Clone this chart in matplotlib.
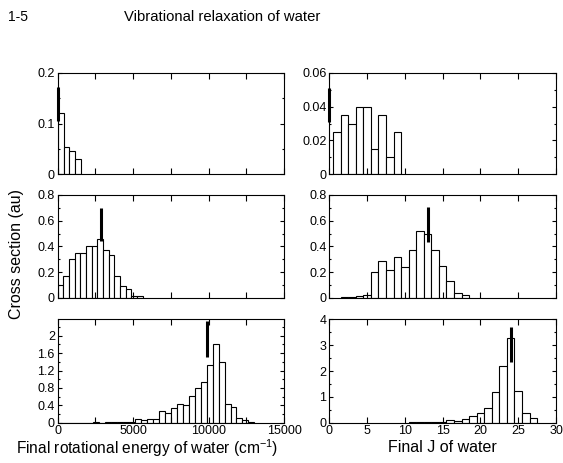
import matplotlib
matplotlib.use('Agg')
import matplotlib.pyplot as plt
from matplotlib.ticker import MultipleLocator, FuncFormatter
import numpy as np

plt.rcParams['font.family'] = ['Liberation Sans', 'DejaVu Sans']
plt.rcParams['axes.linewidth'] = 0.8

# ---- data ----
# left column: rotational energy histograms (bins start at 0, fixed width)
e_width = [390, 375, 395]
e_top = [0.12, 0.053, 0.046, 0.031]
e_mid = [0.10, 0.17, 0.30, 0.35, 0.35, 0.40, 0.405, 0.46, 0.37, 0.33,
         0.17, 0.09, 0.07, 0.01, 0.01]
e_bot = [0, 0, 0, 0, 0, 0, 0.01, 0, 0.01, 0.015, 0.015, 0.015, 0.02,
         0.085, 0.07, 0.09, 0.095, 0.28, 0.22, 0.33, 0.44, 0.41, 0.62,
         0.81, 0.93, 1.33, 1.81, 1.40, 0.42, 0.37, 0.10, 0.06, 0.02]

# right column: final J histograms
j_top = [1, 2, 3, 4, 5, 6, 7, 8, 9]
p_top = [0.025, 0.035, 0.03, 0.04, 0.04, 0.015, 0.035, 0.01, 0.025]
j_mid = [2, 3, 4, 5, 6, 7, 8, 9, 10, 11, 12, 13, 14, 15, 16, 17, 18]
p_mid = [0.006, 0.006, 0.016, 0.018, 0.20, 0.285, 0.215, 0.314, 0.236,
         0.37, 0.52, 0.50, 0.37, 0.247, 0.132, 0.04, 0.018]
j_bot = [11, 12, 13, 14, 15, 16, 17, 18, 19, 20, 21, 22, 23, 24, 25, 26, 27]
p_bot = [0.01, 0.02, 0.03, 0.03, 0.03, 0.10, 0.05, 0.13, 0.26, 0.39,
         0.58, 1.17, 2.20, 3.28, 1.23, 0.39, 0.17]

# thick markers (x, y_low, y_high)
e_mark = [(0, 0.105, 0.172), (2870, 0.44, 0.70), (9915, 1.51, 2.33)]
j_mark = [(0, 0.031, 0.051), (13, 0.436, 0.704), (24, 2.36, 3.69)]

# axis limits / ticks
e_ylim = [0.2, 0.8, 2.38]
e_ymaj = [0.1, 0.2, 0.4]
j_ylim = [0.06, 0.8, 4]
j_ymaj = [0.02, 0.2, 1]

fig = plt.figure(figsize=(5.63, 4.63), dpi=100)

W, H = 563, 463
rows = [(72.7, 174.3), (195, 297.7), (319.3, 422.7)]
cols = [(57.7, 284), (329.3, 556)]

fmt = FuncFormatter(lambda v, p: '%g' % round(v, 6))


def style(ax, xmaj, xmin, ymaj, last):
    ax.xaxis.set_major_locator(MultipleLocator(xmaj))
    ax.xaxis.set_minor_locator(MultipleLocator(xmin))
    ax.yaxis.set_major_locator(MultipleLocator(ymaj))
    ax.yaxis.set_minor_locator(MultipleLocator(ymaj / 2))
    ax.yaxis.set_major_formatter(fmt)
    ax.xaxis.set_major_formatter(fmt)
    ax.tick_params(which='both', direction='in', top=True, right=True,
                   labelsize=9, width=0.8, pad=2)
    ax.tick_params(axis='x', which='both', length=4.3)
    ax.tick_params(axis='y', which='major', length=3)
    ax.tick_params(axis='y', which='minor', length=1.5)
    if not last:
        ax.tick_params(axis='x', labelbottom=False)


e_data = [e_top, e_mid, e_bot]
j_data = [(j_top, p_top), (j_mid, p_mid), (j_bot, p_bot)]

for r, (y0, y1) in enumerate(rows):
    # left panel
    x0, x1 = cols[0]
    ax = fig.add_axes([x0 / W, 1 - y1 / H, (x1 - x0) / W, (y1 - y0) / H])
    h = e_data[r]
    left = np.arange(len(h)) * e_width[r]
    ax.bar(left, h, width=e_width[r], align='edge', color='white',
           edgecolor='black', linewidth=0.8)
    mx, lo, hi = e_mark[r]
    ax.plot([mx, mx], [lo, hi], color='black', lw=2.2,
            solid_capstyle='butt', clip_on=False, zorder=5)
    ax.set_xlim(0, 15000)
    ax.set_ylim(0, e_ylim[r])
    style(ax, 5000, 2500, e_ymaj[r], r == 2)

    # right panel
    x0, x1 = cols[1]
    ax = fig.add_axes([x0 / W, 1 - y1 / H, (x1 - x0) / W, (y1 - y0) / H])
    jj, pp = j_data[r]
    ax.bar(jj, pp, width=1, color='white', edgecolor='black', linewidth=0.8)
    mx, lo, hi = j_mark[r]
    ax.plot([mx, mx], [lo, hi], color='black', lw=2.2,
            solid_capstyle='butt', clip_on=False, zorder=5)
    ax.set_xlim(0, 30)
    ax.set_ylim(0, j_ylim[r])
    style(ax, 5, 5, j_ymaj[r], r == 2)

fig.text(8 / W, 1 - 17 / H, '1-5', fontsize=10, va='center', ha='left')
fig.text(124 / W, 1 - 17 / H, 'Vibrational relaxation of water',
         fontsize=10.7, va='center', ha='left')
fig.text(17 / W, 1 - 254 / H, 'Cross section (au)', fontsize=11.5,
         rotation=90, va='center', ha='center')
fig.text(147 / W, 1 - 448 / H,
         'Final rotational energy of water (cm$\\mathregular{^{-1}}$)',
         fontsize=11.2, va='center', ha='center')
fig.text(442 / W, 1 - 448 / H, 'Final J of water', fontsize=11.5,
         va='center', ha='center')

plt.savefig('out.png', dpi=100)
